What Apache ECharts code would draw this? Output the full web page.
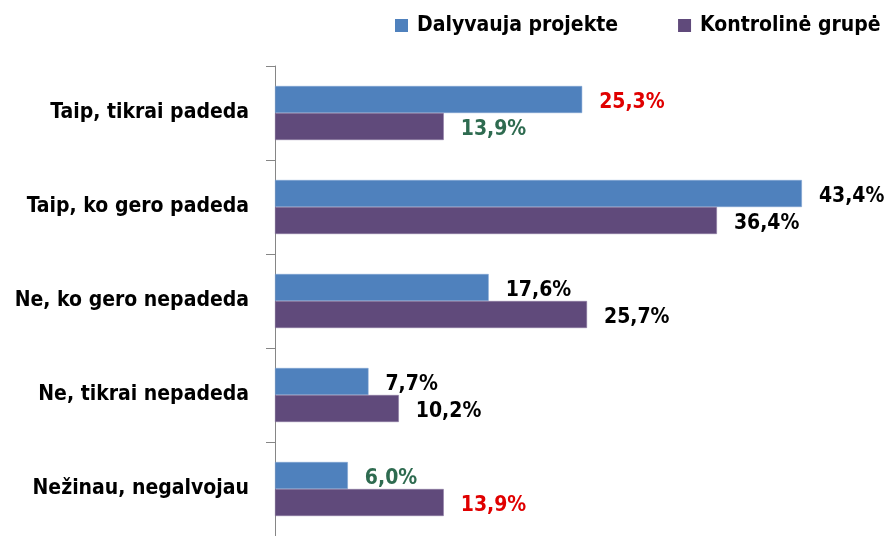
<!DOCTYPE html>
<html>
<head>
<meta charset="utf-8">
<script src="https://cdn.jsdelivr.net/npm/echarts@6/dist/echarts.min.js"></script>
<style>
html,body{margin:0;padding:0;background:#fff}
#main{width:889px;height:536px}
</style>
</head>
<body>
<div id="main"></div>
<script>
var categories = ['Taip, tikrai padeda','Taip, ko gero padeda','Ne, ko gero nepadeda','Ne, tikrai nepadeda','Nežinau, negalvojau']
var seriesNames = ['Dalyvauja projekte','Kontrolinė grupė']
var projValues = [25.3, 43.4, 17.6, 7.7, 6.0]
var ctrlValues = [13.9, 36.4, 25.7, 10.2, 13.9]
// label colours: r = red, g = green, k = black
var projMarks = ['r','k','k','k','g']
var ctrlMarks = ['g','k','k','k','r']

var markColor = {r:'#e00000', g:'#2e6b50', k:'#000000'}
var font = "'DejaVu Sans Condensed','Liberation Sans Narrow','DejaVu Sans',sans-serif"

function mk(vals, marks){
    var out = []
    for(var i=0;i<vals.length;i++){
        out.push({value:vals[i], label:{color:markColor[marks[i]]}})
    }
    return out
}

var myChart = echarts.init(document.getElementById('main'))
var lbl = {
    show:true,
    position:'right',
    distance:17,
    fontFamily:font,
    fontWeight:'bold',
    fontSize:21,
    offset:[0,3],
    formatter:function(p){ return p.value.toFixed(1).replace('.',',')+'%' }
}
var option = {
    animation:false,
    textStyle:{fontFamily:font},
    legend:{
        top:10,
        left:390,
        itemWidth:13,
        itemHeight:13,
        itemGap:60,
        icon:'rect',
        itemStyle:{borderWidth:0},
        textStyle:{fontFamily:font, fontWeight:'bold', fontSize:21, color:'#000', padding:[0,0,0,4]},
        data:seriesNames
    },
    grid:{left:275, right:7, top:66, bottom:0},
    xAxis:{
        type:'value', min:0, max:50, show:false
    },
    yAxis:{
        type:'category',
        inverse:true,
        data:categories,
        axisLine:{lineStyle:{color:'#868686', width:1}},
        axisTick:{show:true, length:9, lineStyle:{color:'#868686'}},
        axisLabel:{margin:26, color:'#000', fontFamily:font, fontWeight:'bold', fontSize:21}
    },
    series:[
        {name:seriesNames[0], type:'bar', barWidth:27, barGap:'0%', itemStyle:{color:'#4f81bd', borderColor:'#7fa3d3', borderWidth:0.5}, label:lbl, data:mk(projValues, projMarks)},
        {name:seriesNames[1], type:'bar', barWidth:27, barGap:'0%', itemStyle:{color:'#604a7b', borderColor:'#8a78a0', borderWidth:0.5}, label:lbl, data:mk(ctrlValues, ctrlMarks)}
    ]
}
myChart.setOption(option)
</script>
</body>
</html>
